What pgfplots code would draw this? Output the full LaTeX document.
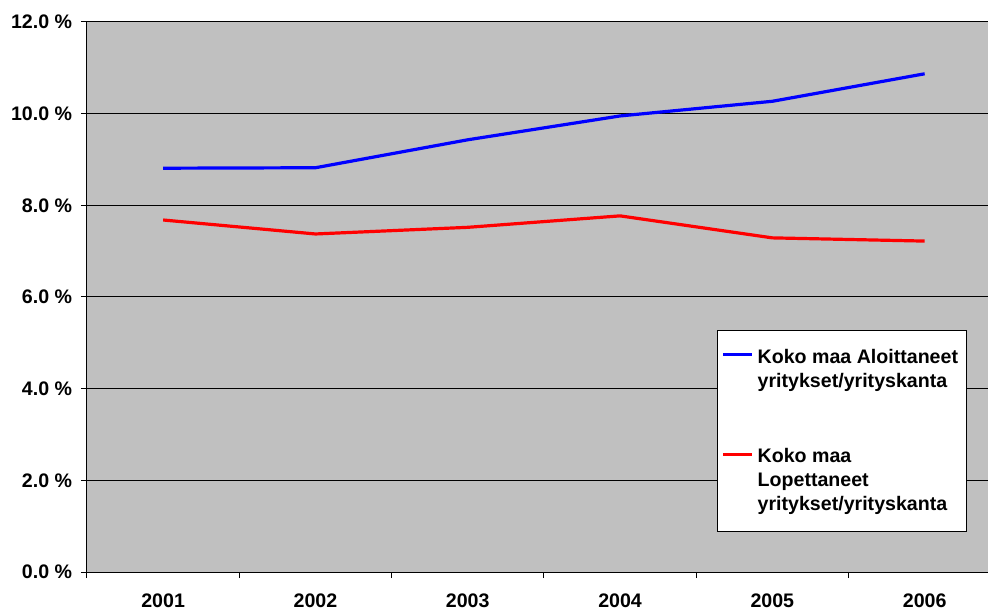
\documentclass[border=0pt]{standalone}
\usepackage{fontspec}
\setmainfont{Liberation Sans}
\usepackage{pgfplots}
\pgfplotsset{compat=1.18}
\definecolor{bggray}{HTML}{C0C0C0}
\begin{document}
\fontsize{9.8}{12}\selectfont\bfseries
\begin{tikzpicture}
\begin{axis}[
  name=ax,
  scale only axis,
  width=450.5pt, height=275pt,
  xmin=-0.5, xmax=5.416,
  ymin=0, ymax=12,
  axis background/.style={fill=bggray},
  axis x line*=bottom, axis y line*=left,
  x axis line style={-, line width=0.5pt}, y axis line style={-, line width=0.5pt},
  xtick={0,1,2,3,4,5},
  xticklabels={2001,2002,2003,2004,2005,2006},
  major x tick style={draw=none},
  minor xtick={-0.5,0.5,1.5,2.5,3.5,4.5},
  minor tick length=3pt,
  major tick length=3pt,
  tick align=outside,
  tick style={black, line width=0.5pt},
  ytick={0,2,4,6,8,10,12},
  yticklabels={0.0 \%,2.0 \%,4.0 \%,6.0 \%,8.0 \%,10.0 \%,12.0 \%},
  ymajorgrids,
  grid style={black, line width=0.5pt},
  xticklabel style={yshift=-4.5pt},
  yticklabel style={xshift=-1pt},
  tick label style={font=\fontsize{9.8}{12}\selectfont\bfseries},
  legend style={at={(0.6992,0.44)}, anchor=north west, draw=black, line width=0.5pt, fill=white,
    font=\fontsize{9.8}{12}\selectfont\bfseries, nodes={align=left, anchor=north west},
    inner xsep=2pt, inner ysep=7pt, row sep=25pt},
  legend cell align=left,
  legend image code/.code={\draw[#1] (0pt,-5pt) -- (14.5pt,-5pt);},
]
\addplot[blue, line width=1.6pt] coordinates {(0,8.81) (1,8.82) (2,9.43) (3,9.95) (4,10.27) (5,10.87)};
\addlegendentry{Koko maa Aloittaneet\\yritykset/yrityskanta}
\addplot[red, line width=1.6pt] coordinates {(0,7.68) (1,7.375) (2,7.52) (3,7.77) (4,7.29) (5,7.22)};
\addlegendentry{Koko maa\\Lopettaneet\\yritykset/yrityskanta}
\end{axis}
\pgfresetboundingbox
\useasboundingbox ([shift={(-43.5pt,-18.5pt)}]ax.south west) rectangle ([shift={(0pt,11pt)}]ax.north east);
\end{tikzpicture}
\end{document}
